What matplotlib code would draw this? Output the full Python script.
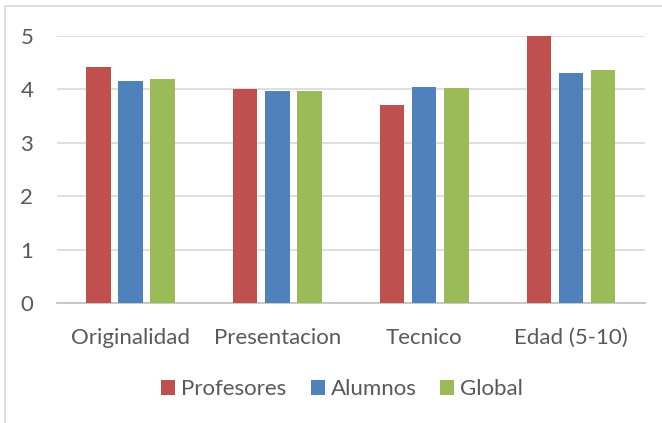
import matplotlib
matplotlib.use("Agg")
import matplotlib.pyplot as plt
import numpy as np
from matplotlib.patches import Rectangle

categories = ["Originalidad", "Presentacion", "Tecnico", "Edad (5-10)"]
series_names = ["Profesores", "Alumnos", "Global"]
profesores = [4.42, 4.00, 3.71, 5.00]
alumnos = [4.16, 3.97, 4.04, 4.30]
global_ = [4.19, 3.97, 4.02, 4.36]
yticks = [0, 1, 2, 3, 4, 5]

colors = ["#C0504D", "#4F81BD", "#9BBB59"]
text_color = "#595959"
plt.rcParams['font.family'] = ['Lato', 'DejaVu Sans']

fig = plt.figure(figsize=(6.62, 4.23), dpi=100)
ax = fig.add_axes([0.086, 0.2837, 0.888, 0.631])

x = np.arange(len(categories))
width = 0.165
step = 0.218
for i, (vals, name) in enumerate(zip([profesores, alumnos, global_], series_names)):
    ax.bar(x + (i - 1) * step, vals, width, color=colors[i], label=name, zorder=3)

ax.set_xlim(-0.5, len(categories) - 0.5)
ax.set_ylim(0, 5)
ax.set_yticks(yticks)
ax.set_yticklabels([str(t) for t in yticks])
ax.set_xticks(x)
ax.set_xticklabels(categories)
ax.yaxis.grid(True, color="#D9D9D9", linewidth=1.2, zorder=0)
ax.set_axisbelow(True)
for s in ["top", "right", "left"]:
    ax.spines[s].set_visible(False)
ax.spines["bottom"].set_color("#BFBFBF")
ax.spines["bottom"].set_linewidth(1.2)
ax.tick_params(axis="both", length=0, colors=text_color, labelsize=16)
ax.tick_params(axis="x", pad=18)
ax.tick_params(axis="y", pad=17)

leg = fig.legend(loc="center", bbox_to_anchor=(0.517, 0.080), ncol=3, frameon=False,
                 fontsize=16, handlelength=0.63, handleheight=0.63, handletextpad=0.27,
                 columnspacing=1.08)
for t in leg.get_texts():
    t.set_color(text_color)

fig.patches.append(Rectangle((5 / 662, -0.1), 1.2, 1 - 6 / 423 + 0.1, transform=fig.transFigure,
                             fill=False, edgecolor="#D9D9D9", linewidth=1.2))

fig.savefig("out.png", dpi=100)
